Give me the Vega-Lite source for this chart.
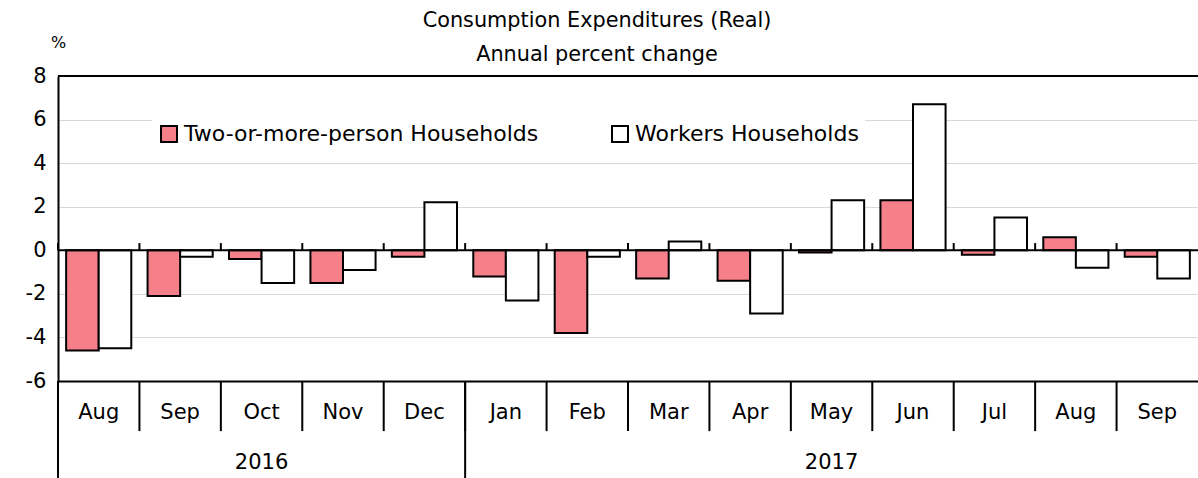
{
  "$schema": "https://vega.github.io/schema/vega-lite/v6.json",
  "width": 1140,
  "height": 305,
  "autosize": {"type": "none"},
  "padding": {"left": 58, "top": 76, "right": 0, "bottom": 97},
  "background": "white",
  "config": {"view": {"stroke": null}, "font": "DejaVu Sans"},
  "title": {
    "text": ["Consumption Expenditures (Real)", "Annual percent change"],
    "fontSize": 20.8,
    "fontWeight": "normal",
    "color": "black",
    "lineHeight": 34,
    "anchor": "middle",
    "dx": -31,
    "dy": 38,
    "offset": 6
  },
  "datasets": {
    "bars": [
      {"period": "Aug 2016", "series": "Two-or-more-person Households", "value": -4.6},
      {"period": "Aug 2016", "series": "Workers Households", "value": -4.5},
      {"period": "Sep 2016", "series": "Two-or-more-person Households", "value": -2.1},
      {"period": "Sep 2016", "series": "Workers Households", "value": -0.3},
      {"period": "Oct 2016", "series": "Two-or-more-person Households", "value": -0.4},
      {"period": "Oct 2016", "series": "Workers Households", "value": -1.5},
      {"period": "Nov 2016", "series": "Two-or-more-person Households", "value": -1.5},
      {"period": "Nov 2016", "series": "Workers Households", "value": -0.9},
      {"period": "Dec 2016", "series": "Two-or-more-person Households", "value": -0.3},
      {"period": "Dec 2016", "series": "Workers Households", "value": 2.2},
      {"period": "Jan 2017", "series": "Two-or-more-person Households", "value": -1.2},
      {"period": "Jan 2017", "series": "Workers Households", "value": -2.3},
      {"period": "Feb 2017", "series": "Two-or-more-person Households", "value": -3.8},
      {"period": "Feb 2017", "series": "Workers Households", "value": -0.3},
      {"period": "Mar 2017", "series": "Two-or-more-person Households", "value": -1.3},
      {"period": "Mar 2017", "series": "Workers Households", "value": 0.4},
      {"period": "Apr 2017", "series": "Two-or-more-person Households", "value": -1.4},
      {"period": "Apr 2017", "series": "Workers Households", "value": -2.9},
      {"period": "May 2017", "series": "Two-or-more-person Households", "value": -0.1},
      {"period": "May 2017", "series": "Workers Households", "value": 2.3},
      {"period": "Jun 2017", "series": "Two-or-more-person Households", "value": 2.3},
      {"period": "Jun 2017", "series": "Workers Households", "value": 6.7},
      {"period": "Jul 2017", "series": "Two-or-more-person Households", "value": -0.2},
      {"period": "Jul 2017", "series": "Workers Households", "value": 1.5},
      {"period": "Aug 2017", "series": "Two-or-more-person Households", "value": 0.6},
      {"period": "Aug 2017", "series": "Workers Households", "value": -0.8},
      {"period": "Sep 2017", "series": "Two-or-more-person Households", "value": -0.3},
      {"period": "Sep 2017", "series": "Workers Households", "value": -1.3}
    ],
    "periods": [
      {"period": "Aug 2016"}, {"period": "Sep 2016"}, {"period": "Oct 2016"}, {"period": "Nov 2016"},
      {"period": "Dec 2016"}, {"period": "Jan 2017"}, {"period": "Feb 2017"}, {"period": "Mar 2017"},
      {"period": "Apr 2017"}, {"period": "May 2017"}, {"period": "Jun 2017"}, {"period": "Jul 2017"},
      {"period": "Aug 2017"}, {"period": "Sep 2017"}
    ],
    "yearStarts": [{"period": "Aug 2016"}, {"period": "Jan 2017"}],
    "yearLabels": [{"period": "Oct 2016", "year": "2016"}, {"period": "May 2017", "year": "2017"}]
  },
  "layer": [
    {
      "data": {"name": "bars"},
      "mark": {"type": "bar", "stroke": "black", "strokeWidth": 2},
      "encoding": {
        "x": {
          "field": "period",
          "type": "nominal",
          "sort": null,
          "scale": {"paddingInner": 0, "paddingOuter": 0},
          "axis": {
            "title": null,
            "domainColor": "black",
            "domainWidth": 2,
            "ticks": false,
            "labelAngle": 0,
            "labelFontSize": 21,
            "labelColor": "black",
            "labelPadding": 20,
            "labelBaseline": "top",
            "labelExpr": "isString(datum.value) ? slice(datum.value, 0, 3) : ''",
            "grid": false
          }
        },
        "xOffset": {
          "field": "series",
          "type": "nominal",
          "sort": ["Two-or-more-person Households", "Workers Households"],
          "scale": {"paddingInner": 0, "paddingOuter": 0.25}
        },
        "y": {
          "field": "value",
          "type": "quantitative",
          "scale": {"domain": [-6, 8], "nice": false},
          "axis": {
            "title": "%",
            "titleAngle": 0,
            "titleX": 0,
            "titleY": -34,
            "titleAlign": "center",
            "titleBaseline": "middle",
            "titleFontSize": 16,
            "titleFontWeight": "normal",
            "titleColor": "black",
            "values": [-6, -4, -2, 0, 2, 4, 6, 8],
            "labelExpr": "'' + datum.value",
            "labelFontSize": 21,
            "labelColor": "black",
            "labelPadding": 12,
            "ticks": false,
            "domainColor": "black",
            "domainWidth": 2,
            "grid": true,
            "gridColor": "#d9d9d9",
            "gridWidth": 1
          }
        },
        "fill": {
          "field": "series",
          "type": "nominal",
          "scale": {
            "domain": ["Two-or-more-person Households", "Workers Households"],
            "range": ["#F5808A", "#ffffff"]
          },
          "legend": {
            "orient": "none",
            "legendX": 94,
            "legendY": 41,
            "direction": "horizontal",
            "title": null,
            "symbolType": "square",
            "symbolSize": 256,
            "symbolStrokeColor": "black",
            "symbolStrokeWidth": 2,
            "labelFontSize": 22,
            "labelColor": "black",
            "labelOffset": 4,
            "columnPadding": 69,
            "fillColor": "white",
            "padding": 6,
            "labelLimit": 500
          }
        }
      }
    },
    {
      "data": {"values": [{}]},
      "mark": {"type": "rule", "color": "black", "strokeWidth": 2},
      "encoding": {"y": {"datum": 0}}
    },
    {
      "data": {"values": [{}]},
      "mark": {"type": "rule", "color": "black", "strokeWidth": 2},
      "encoding": {"y": {"datum": 8}}
    },
    {
      "data": {"name": "periods"},
      "mark": {"type": "rule", "color": "black", "strokeWidth": 2},
      "encoding": {
        "x": {"field": "period", "type": "nominal", "sort": null, "bandPosition": 0},
        "y": {"datum": 0},
        "y2": {"datum": 0.33}
      }
    },
    {
      "data": {"name": "periods"},
      "mark": {"type": "rule", "color": "black", "strokeWidth": 2},
      "encoding": {
        "x": {"field": "period", "type": "nominal", "sort": null, "bandPosition": 0},
        "y": {"datum": -6},
        "y2": {"datum": -8.3}
      }
    },
    {
      "data": {"name": "yearStarts"},
      "mark": {"type": "rule", "color": "black", "strokeWidth": 2},
      "encoding": {
        "x": {"field": "period", "type": "nominal", "sort": null, "bandPosition": 0},
        "y": {"datum": -6},
        "y2": {"datum": -10.5}
      }
    },
    {
      "data": {"name": "yearLabels"},
      "mark": {"type": "text", "fontSize": 21, "color": "black", "baseline": "middle", "align": "center"},
      "encoding": {
        "x": {"field": "period", "type": "nominal", "sort": null},
        "y": {"datum": -9.78},
        "text": {"field": "year"}
      }
    }
  ]
}
